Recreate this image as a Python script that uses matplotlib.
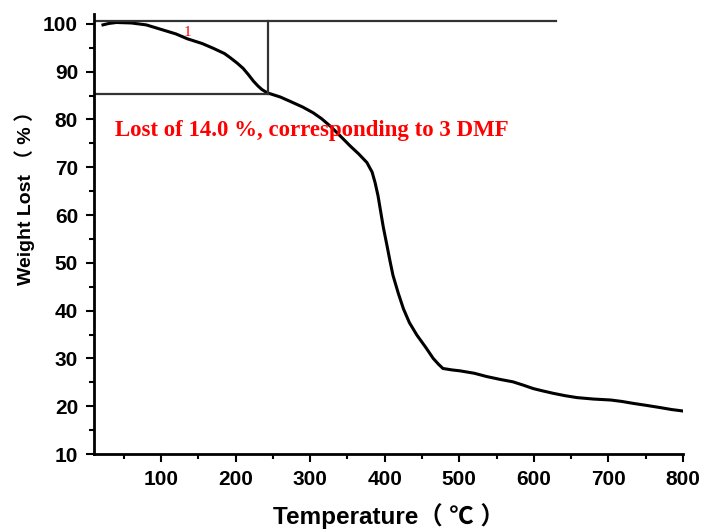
import matplotlib.pyplot as plt
from matplotlib.ticker import MultipleLocator

# TGA curve
temp = [22, 30, 40, 60, 80, 99, 120, 135, 155, 170, 185, 193, 202, 210, 217, 224, 230,
        235, 240, 244, 260, 273, 290, 304, 315, 327, 340, 354, 365, 376, 383, 387, 391,
        394, 398, 403, 407, 411, 418, 425, 433, 443, 455, 465, 472, 478, 490, 501, 520,
        537, 555, 572, 586, 599, 612, 626, 642, 658, 680, 703, 718, 733, 750, 770, 785, 800]
weight = [99.8, 100.1, 100.3, 100.2, 99.8, 98.9, 97.9, 96.9, 95.9, 94.9, 93.8, 92.9, 91.8,
          90.7, 89.4, 88.0, 87.0, 86.3, 85.8, 85.5, 84.7, 83.8, 82.6, 81.4, 80.2, 78.6,
          76.6, 74.4, 72.8, 71.0, 69.0, 66.8, 64.0, 61.2, 57.5, 53.6, 50.4, 47.4, 43.7,
          40.4, 37.5, 34.9, 32.3, 30.0, 28.8, 27.9, 27.6, 27.4, 26.9, 26.2, 25.6, 25.1,
          24.4, 23.7, 23.2, 22.7, 22.2, 21.8, 21.5, 21.3, 21.0, 20.6, 20.2, 19.7, 19.3, 19.0]

# marker lines for the first loss step
top_level = 100.6
step_level = 85.4
step_temp = 244
top_line_end = 630

label_text = "Lost of 14.0 %, corresponding to 3 DMF"

plt.rcParams['font.family'] = ['Liberation Sans', 'Noto Sans CJK SC']
plt.rcParams['font.weight'] = 'bold'

fig = plt.figure(figsize=(7.09, 5.32), dpi=100)
ax = fig.add_axes([0.1326, 0.1466, 0.9633 - 0.1326, 0.973 - 0.1466])

ax.plot(temp, weight, color='black', lw=2.2)

# annotation lines
line_color = '#333333'
ax.plot([10, top_line_end], [top_level, top_level], color=line_color, lw=1.6)
ax.plot([10, step_temp], [step_level, step_level], color=line_color, lw=1.6)
ax.plot([step_temp, step_temp], [step_level, top_level], color=line_color, lw=1.6)

ax.text(135, 98.2, "1", color='red', fontsize=11, family='Liberation Serif',
        fontweight='normal', ha='center', va='center')
ax.text(38, 77.8, label_text, color='red', fontsize=16.5, family='Liberation Serif',
        fontweight='bold', ha='left', va='center')

ax.set_xlim(10, 800)
ax.set_ylim(10, 102)
ax.xaxis.set_major_locator(MultipleLocator(100))
ax.xaxis.set_minor_locator(MultipleLocator(50))
ax.yaxis.set_major_locator(MultipleLocator(10))
ax.yaxis.set_minor_locator(MultipleLocator(5))

for side in ['top', 'right']:
    ax.spines[side].set_visible(False)
for side in ['left', 'bottom']:
    ax.spines[side].set_linewidth(2)

ax.tick_params(which='major', direction='out', length=6, width=1.5, labelsize=15, pad=5.5)
ax.tick_params(which='minor', direction='out', length=3.5, width=1.5)
for lab in ax.get_xticklabels() + ax.get_yticklabels():
    lab.set_fontweight('bold')

ax.set_xlabel("Temperature（ ℃ ）", fontsize=17.5, fontweight='bold', labelpad=10)
ax.set_ylabel("Weight Lost （ % ）", fontsize=14, fontweight='bold')
ax.yaxis.set_label_coords(-0.1, 0.592)

fig.savefig('out.png', dpi=100)
